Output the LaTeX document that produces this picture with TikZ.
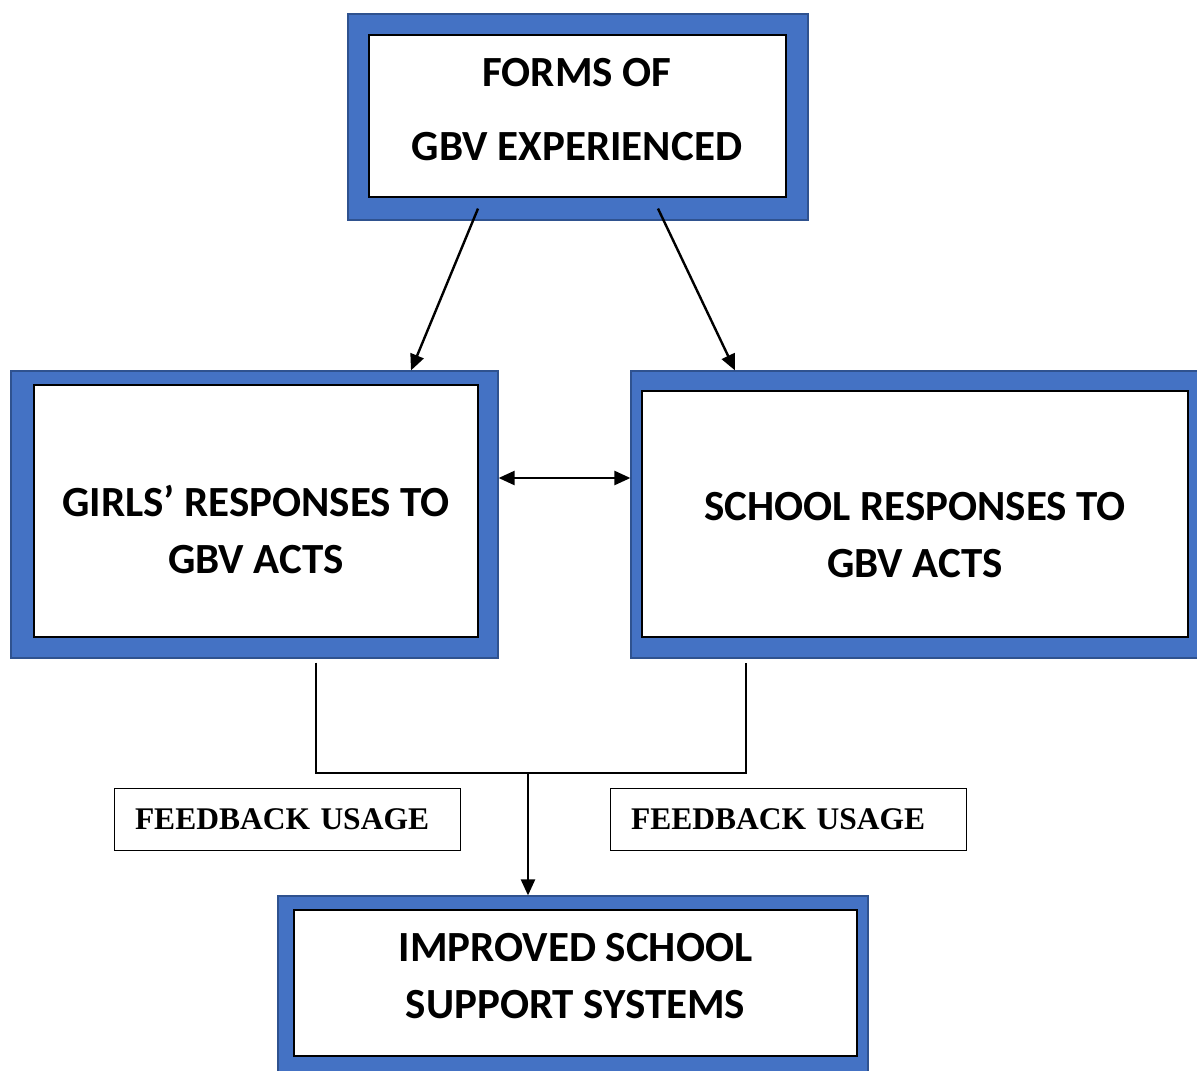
\documentclass[tikz,border=0pt]{standalone}
\usepackage{fontspec}
\setmainfont{Carlito}
\newfontfamily\timesb{Liberation Serif}
\usetikzlibrary{arrows.meta}
\definecolor{frameblue}{HTML}{4472C4}
\definecolor{edgeblue}{HTML}{2F528F}
\begin{document}
\begin{tikzpicture}[x=1pt, y=-1pt,
  frame/.style={draw=edgeblue, fill=frameblue, line width=1.2pt, inner sep=0pt},
  panel/.style={draw=black, fill=white, line width=1.2pt, inner sep=0pt},
  bigtext/.style={align=center, font=\bfseries\fontsize{43}{57}\selectfont, inner sep=0pt},
  note/.style={draw=black, line width=1pt, minimum height=62, inner xsep=21, align=left,
    font=\timesb\bfseries\fontsize{31.5}{38}\selectfont},
  arr/.style={line width=2.4pt, -{Triangle[length=16pt,width=14pt]}}]
  \useasboundingbox (0,0) rectangle (1197,1071);
  % framed boxes: name/x/y/w/h of frame, then x/y/w/h of white panel
  \foreach \n/\x/\y/\w/\h/\ix/\iy/\iw/\ih in {
      forms/578/117/460/206/577.5/116/417/162,
      girls/254.5/514.5/487/287/256/511/444/252,
      school/915.5/514.5/569/287/915/514/546/246,
      support/573/985.5/590/179/575.5/983/563/146} {
    \node[frame, minimum width=\w, minimum height=\h] (\n) at (\x,\y) {};
    \node[panel, minimum width=\iw, minimum height=\ih] (\n in) at (\ix,\iy) {};
  }
  \node[bigtext] (formstxt) at (577,110) {FORMS OF\\[17pt]GBV EXPERIENCED};
  \node[bigtext] (girlstxt) at (256,529.5) {GIRLS’ RESPONSES TO\\GBV ACTS};
  \node[bigtext] (schooltxt) at (915,535) {SCHOOL RESPONSES TO\\GBV ACTS};
  \node[bigtext] (supporttxt) at (575.5,976) {IMPROVED SCHOOL\\SUPPORT SYSTEMS};
  \node[note, text width=304] (fbleft) at (287,819) {FEEDBACK USAGE};
  \node[note, text width=314] (fbright) at (788,819) {FEEDBACK USAGE};
  % arrows
  \draw[arr] ([xshift=-100pt, yshift=12pt]forms.south) -- ([xshift=156.5pt]girls.north);
  \draw[arr] ([xshift=80pt, yshift=12pt]forms.south) -- ([xshift=-180.5pt]school.north);
  \draw[line width=2.4pt, {Triangle[length=16pt,width=14pt]}-{Triangle[length=16pt,width=14pt]}]
    ([yshift=36.5pt]girls.east) -- ([yshift=36.5pt]school.west);
  \coordinate (join) at (528,773);
  \draw[line width=2.6pt] ([xshift=61.5pt, yshift=-4pt]girls.south) |- (join)
    -| ([xshift=-169.5pt, yshift=-4pt]school.south);
  \draw[arr] (join) -- (join |- support.north);
\end{tikzpicture}
\end{document}
